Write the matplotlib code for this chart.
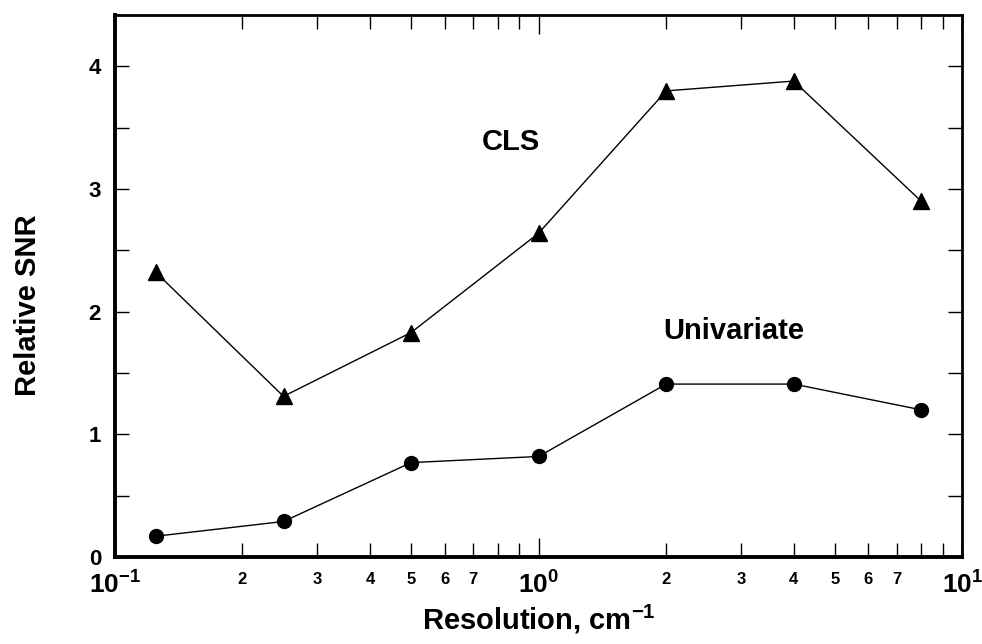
import matplotlib
matplotlib.use("Agg")
import matplotlib.pyplot as plt
from matplotlib.ticker import FixedLocator, FixedFormatter, MultipleLocator

plt.rcParams['font.family'] = ['Liberation Sans', 'DejaVu Sans']
plt.rcParams['font.weight'] = 'bold'
plt.rcParams['mathtext.fontset'] = 'custom'
plt.rcParams['mathtext.rm'] = 'Liberation Sans:bold'
plt.rcParams['mathtext.bf'] = 'Liberation Sans:bold'

# data
resolution = [0.125, 0.25, 0.5, 1.0, 2.0, 4.0, 8.0]
cls_snr = [2.32, 1.31, 1.83, 2.64, 3.80, 3.88, 2.90]
univariate_snr = [0.17, 0.29, 0.77, 0.82, 1.41, 1.41, 1.20]

major_ticks = [0.1, 1, 10]
major_labels = [r'$10^{-1}$', r'$10^{0}$', r'$10^{1}$']
minor_ticks = [0.2, 0.3, 0.4, 0.5, 0.6, 0.7, 0.8, 0.9,
               2, 3, 4, 5, 6, 7, 8, 9]
minor_labels = ['2', '3', '4', '5', '6', '7', '', '',
                '2', '3', '4', '5', '6', '7', '', '']

fig = plt.figure(figsize=(9.82, 6.44), dpi=100)
ax = fig.add_axes([0.117, 0.135, 0.863, 0.842])

ax.plot(resolution, cls_snr, color='black', lw=1.0, marker='^', ms=11, zorder=3)
ax.plot(resolution, univariate_snr, color='black', lw=1.0, marker='o', ms=10, zorder=3)

ax.set_xscale('log')
ax.set_xlim(0.1, 10)
ax.set_ylim(0, 4.42)

ax.xaxis.set_major_locator(FixedLocator(major_ticks))
ax.xaxis.set_major_formatter(FixedFormatter(major_labels))
ax.xaxis.set_minor_locator(FixedLocator(minor_ticks))
ax.xaxis.set_minor_formatter(FixedFormatter(minor_labels))

ax.yaxis.set_major_locator(MultipleLocator(1))
ax.yaxis.set_minor_locator(MultipleLocator(0.5))
ax.yaxis.set_minor_formatter(plt.NullFormatter())

ax.tick_params(axis='both', which='both', direction='in', top=True, right=True,
               width=1.0, color='black')
ax.tick_params(axis='x', which='major', length=14, labelsize=19, pad=9)
ax.tick_params(axis='x', which='minor', length=10, labelsize=12, pad=11)
ax.tick_params(axis='y', which='both', length=10, labelsize=16, pad=10)

for side in ['left', 'bottom']:
    ax.spines[side].set_linewidth(2.8)
for side in ['top', 'right']:
    ax.spines[side].set_linewidth(2.0)

ax.text(0.86, 3.38, 'CLS', fontsize=21, fontweight='bold', ha='center', va='center')
ax.text(2.88, 1.84, 'Univariate', fontsize=21, fontweight='bold', ha='center', va='center')

ax.set_xlabel(r'Resolution, cm$^{-1}$', fontsize=21, fontweight='bold')
ax.set_ylabel('Relative SNR', fontsize=21, fontweight='bold')
ax.xaxis.set_label_coords(0.5, -0.085)
ax.yaxis.set_label_coords(-0.086, 0.465)

fig.savefig('out.png', dpi=100)
